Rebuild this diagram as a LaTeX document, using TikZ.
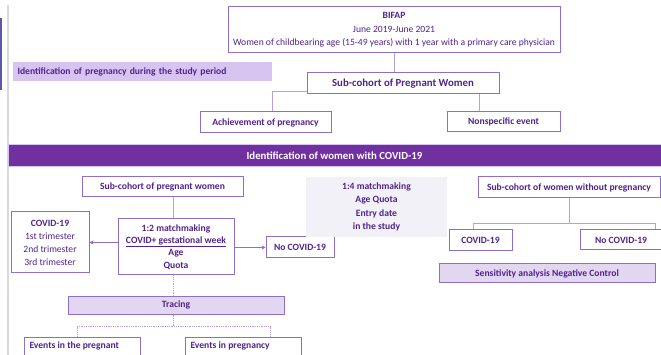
\documentclass[tikz,border=0pt]{standalone}
\usepackage{fontspec}
\setmainfont{Carlito}
\usetikzlibrary{calc,arrows.meta}
\definecolor{boxline}{RGB}{140,110,205}
\definecolor{txtpurple}{RGB}{80,35,145}
\definecolor{bannerpurple}{RGB}{112,48,160}
\definecolor{lilac}{RGB}{216,196,240}
\definecolor{paleLilac}{RGB}{226,214,240}
\definecolor{paleGrey}{RGB}{243,241,248}
\definecolor{linkline}{RGB}{180,160,222}
\begin{document}
\begin{tikzpicture}[x=1pt,y=-1pt,line width=1pt,
  font=\fontsize{9.6}{13}\selectfont,
  box/.style={draw=boxline,fill=white,text=txtpurple,inner sep=0pt,align=center},
  bbox/.style={box,font=\fontsize{9.6}{13}\selectfont\bfseries},
  tint/.style={bbox,fill=paleLilac},
  link/.style={draw=linkline,line width=0.8pt},
  dotlink/.style={link,densely dotted},
  tip/.style={link,-{Stealth[length=4pt,width=4pt]},draw=boxline}]
  \useasboundingbox (0,0) rectangle (661,355);
  \clip (0,0) rectangle (661,355);
  % side strip
  \fill[black!15] (6.5,5) rectangle (8.5,355);
  \fill[blue!30!gray] (0,18) rectangle (1.5,90);
  % top part
  \node[box,minimum width=332,minimum height=46,font=\fontsize{9.6}{13.5}\selectfont] (bifap) at (394,30)
    {\textbf{BIFAP}\\June 2019-June 2021\\Women of childbearing age (15-49 years) with 1 year with a primary care physician};
  \node[bbox,draw=none,fill=lilac,text width=249,align=left,inner xsep=5,minimum height=19,anchor=west] (idpreg) at (12,71.5)
    {Identification of pregnancy during the study period};
  \node[bbox,minimum width=192,minimum height=21,font=\fontsize{10.8}{13}\selectfont\bfseries] (subpreg) at (403,83.5) {Sub-cohort of Pregnant Women};
  \node[bbox,minimum width=131,minimum height=21] (achieve) at (265.5,122.5) {Achievement of pregnancy};
  \node[bbox,minimum width=113,minimum height=20] (nonspec) at (503.5,122) {Nonspecific event};
  \draw[link] (bifap.south) -- (bifap.south |- subpreg.north);
  \draw[link] ([yshift=3]subpreg.south west) -| ([xshift=6.5]achieve.north);
  \draw[link] ([xshift=-24.5]nonspec.north |- subpreg.south) -- ([xshift=-24.5]nonspec.north);
  % banner
  \node[draw=lilac,fill=bannerpurple,text=white,font=\fontsize{10.8}{13}\selectfont\bfseries,minimum width=653,minimum height=22,inner sep=0pt] (banner) at (334.5,156)
    {Identification of women with COVID-19};
  % pregnant women
  \node[bbox,minimum width=161,minimum height=20] (subpreg2) at (162.5,187) {Sub-cohort of pregnant women};
  \node[box,minimum width=116,minimum height=56,font=\fontsize{9.6}{12.3}\selectfont] (match2) at (176,247)
    {\textbf{1:2 matchmaking}\\\textbf{\underline{COVID+ gestational week}}\\\textbf{Age}\\\textbf{Quota}};
  \node[box,minimum width=78,minimum height=61] (covid) at (50,242.5)
    {\textbf{COVID-19}\\1st trimester\\2nd trimester\\3rd trimester};
  \node[bbox,minimum width=68,minimum height=21] (nocovid) at (300,247.5) {No COVID-19};
  \node[tint,minimum width=216,minimum height=18] (tracing) at (176,305) {Tracing};
  \node[box,minimum width=116,minimum height=44,anchor=north west] (evpreg) at (24,337) {};
  \node[bbox,draw=none,fill=none,anchor=north west,inner xsep=5,inner ysep=4] at (evpreg.north west) {Events in the pregnant};
  \node[box,minimum width=116,minimum height=44,anchor=north west] (evin) at (185,337) {};
  \node[bbox,draw=none,fill=none,anchor=north west,inner xsep=5,inner ysep=4] at (evin.north west) {Events in pregnancy};
  \draw[link] ([xshift=10.5]subpreg2.south) -- ([xshift=-3]match2.north);
  \draw[tip] (match2.west |- covid.east) -- (covid.east);
  \draw[tip] (match2.east |- nocovid.west) -- (nocovid.west);
  \draw[dotlink] ([xshift=-3]match2.south) -- ([xshift=-3]tracing.north);
  \coordinate (split) at ([xshift=-3,yshift=-12]tracing.south);
  \draw[dotlink] ([xshift=-3]tracing.south) -- (split);
  \draw[dotlink] ([xshift=53]evpreg.north west |- split) -- ([xshift=85]evin.north west |- split);
  \draw[dotlink] ([xshift=53]evpreg.north west |- split) -- ([xshift=53]evpreg.north west);
  \draw[dotlink] ([xshift=85]evin.north west |- split) -- ([xshift=85]evin.north west);
  % women without pregnancy
  \node[box,draw=none,fill=paleGrey,minimum width=141,minimum height=60,font=\fontsize{9.6}{13.3}\selectfont\bfseries] (match4) at (376.5,207)
    {1:4 matchmaking\\Age Quota\\Entry date\\in the study};
  \node[bbox,minimum width=182,minimum height=21] (subnopreg) at (569,187.5) {Sub-cohort of women without pregnancy};
  \node[bbox,minimum width=63,minimum height=21] (covidr) at (480.5,240.5) {COVID-19};
  \node[bbox,minimum width=82,minimum height=20] (nocovidr) at (621,240) {No COVID-19};
  \node[tint,minimum width=216,minimum height=19] (sens) at (547,273.5) {Sensitivity analysis Negative Control};
  \coordinate (fork) at ([yshift=-25]subnopreg.south);
  \draw[link] (subnopreg.south) -- (fork);
  \draw[link] ([xshift=-7.5]covidr.north) |- (fork) -| ([xshift=34]nocovidr.north);
\end{tikzpicture}
\end{document}
